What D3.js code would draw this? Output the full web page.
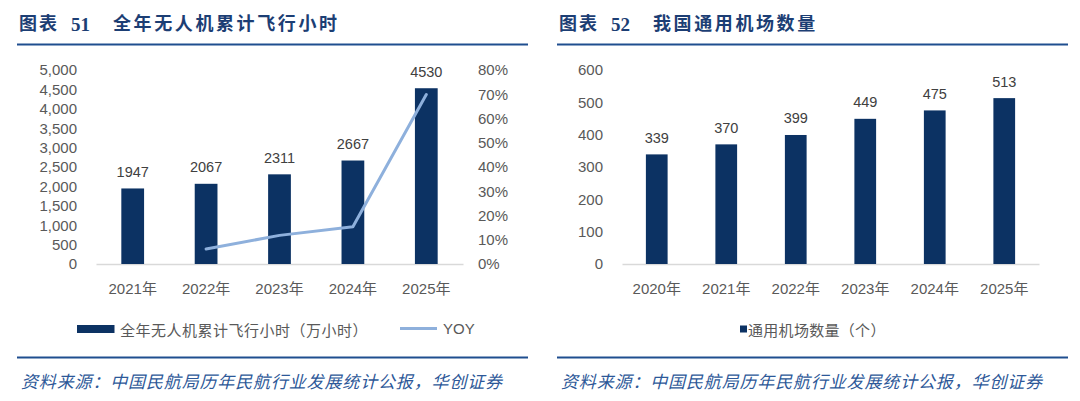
<!DOCTYPE html>
<html>
<head>
<meta charset="utf-8">
<script src="https://cdn.jsdelivr.net/npm/d3@7"></script>
<style>
  html, body { margin: 0; padding: 0; background: #fff; }
  svg { display: block; }
</style>
</head>
<body>
<svg id="chart" width="1080" height="401"></svg>
<script>
// Chart 51: drone flight hours (10k hours) + YOY
var hourYears = ['2021年', '2022年', '2023年', '2024年', '2025年'];
var flightHours = [1947, 2067, 2311, 2667, 4530];
var yoyYears = ['2022年', '2023年', '2024年', '2025年'];
var yoyPct = [6.2, 11.8, 15.4, 69.9];
var hourTicks = [0, 500, 1000, 1500, 2000, 2500, 3000, 3500, 4000, 4500, 5000];
var pctTicks = [0, 10, 20, 30, 40, 50, 60, 70, 80];

// Chart 52: general aviation airports
var airportYears = ['2020年', '2021年', '2022年', '2023年', '2024年', '2025年'];
var airportCounts = [339, 370, 399, 449, 475, 513];
var airportTicks = [0, 100, 200, 300, 400, 500, 600];

var BAR = '#0c3263';
var LINE = '#8eb0dc';
var GREY = '#595959';
var SANS = '"Liberation Sans", Arial, "Noto Sans CJK SC", sans-serif';
var CJK = '"Noto Sans CJK SC", sans-serif';

var svg = d3.select('#chart');
svg.append('rect').attr('width', 1080).attr('height', 401).attr('fill', '#fff');

// note: "top" is a read-only window global, so use other names
var plotTop = 70, plotBase = 264;

/**
 * Title, rules and source line shared by both panels
 */
function frame(ox, num, title) {
  var g = svg.append('g').attr('transform', 'translate(' + ox + ',0)');
  var tf = '"Liberation Serif", "Noto Sans CJK SC", serif';

  g.append('text').attr('x', 19).attr('y', 24).attr('dominant-baseline', 'central')
    .attr('font-family', tf).attr('font-weight', 'bold').attr('font-size', 18)
    .attr('letter-spacing', 2).attr('fill', '#1c3e74').text('图表');
  g.append('text').attr('x', 71).attr('y', 24).attr('dominant-baseline', 'central')
    .attr('font-family', tf).attr('font-weight', 'bold').attr('font-size', 19)
    .attr('fill', '#1c3e74').text(num);
  g.append('text').attr('x', 113).attr('y', 24).attr('dominant-baseline', 'central')
    .attr('font-family', tf).attr('font-weight', 'bold').attr('font-size', 18)
    .attr('letter-spacing', 2.6).attr('fill', '#1c3e74').text(title);

  [44.5, 357.5].forEach(function(y) {
    g.append('line').attr('x1', 17).attr('x2', 528).attr('y1', y).attr('y2', y)
      .attr('stroke', '#1f4e8f').attr('stroke-width', 2);
  });

  g.append('text').attr('x', 21).attr('y', 380).attr('dominant-baseline', 'central')
    .attr('font-family', CJK).attr('font-style', 'italic').attr('font-size', 17)
    .attr('letter-spacing', 0.85).attr('fill', '#2d5898')
    .text('资料来源：中国民航局历年民航行业发展统计公报，华创证券');
}

/**
 * Bars with value labels and the category axis
 */
function bars(x, y, cats, vals) {
  var g = svg.append('g');

  g.append('g')
    .attr('transform', 'translate(0,' + plotBase + ')')
    .call(d3.axisBottom(x).tickSize(0).tickSizeOuter(0).tickPadding(19))
    .call(function(a) {
      a.select('.domain').attr('stroke', '#d9d9d9').attr('stroke-width', 1.5);
      a.selectAll('text').attr('font-family', SANS).attr('font-size', 15).attr('fill', GREY);
    });

  g.selectAll('rect.bar')
    .data(vals)
    .enter().append('rect')
    .attr('class', 'bar')
    .attr('x', function(d, i) { return x(cats[i]) })
    .attr('y', function(d) { return y(d) })
    .attr('width', x.bandwidth())
    .attr('height', function(d) { return plotBase - y(d) })
    .attr('fill', BAR);

  g.selectAll('text.val')
    .data(vals)
    .enter().append('text')
    .attr('class', 'val')
    .attr('x', function(d, i) { return x(cats[i]) + x.bandwidth() / 2 })
    .attr('y', function(d) { return y(d) - 16.6 })
    .attr('dy', '0.35em')
    .attr('text-anchor', 'middle')
    .attr('font-family', SANS).attr('font-size', 14.5).attr('fill', '#404040')
    .text(function(d) { return d });
}

function styleTicks(a) {
  a.select('.domain').remove();
  a.selectAll('text').attr('font-family', SANS).attr('font-size', 15).attr('fill', GREY);
}

// ---- Left panel ----
frame(0, '51', '全年无人机累计飞行小时');

var x1 = d3.scaleBand().domain(hourYears).range([96, 463]).paddingInner(0.69).paddingOuter(0.345);
var y1 = d3.scaleLinear().domain([0, 5000]).range([plotBase, plotTop]);
var y1r = d3.scaleLinear().domain([0, 80]).range([plotBase, plotTop]);

svg.append('g').attr('transform', 'translate(77,0)')
  .call(d3.axisLeft(y1).tickValues(hourTicks).tickSize(0).tickPadding(0).tickFormat(d3.format(',')))
  .call(styleTicks);

svg.append('g').attr('transform', 'translate(478,0)')
  .call(d3.axisRight(y1r).tickValues(pctTicks).tickSize(0).tickPadding(0).tickFormat(function(d) { return d + '%' }))
  .call(styleTicks);

bars(x1, y1, hourYears, flightHours);

var yoyLine = d3.line()
  .x(function(d, i) { return x1(yoyYears[i]) + x1.bandwidth() / 2 })
  .y(function(d) { return y1r(d) });

svg.append('path')
  .datum(yoyPct)
  .attr('fill', 'none')
  .attr('stroke', LINE)
  .attr('stroke-width', 3)
  .attr('stroke-linecap', 'round')
  .attr('stroke-linejoin', 'round')
  .attr('d', yoyLine);

// legend
svg.append('rect').attr('x', 77).attr('y', 325).attr('width', 37.5).attr('height', 8).attr('fill', BAR);
svg.append('text').attr('x', 120).attr('y', 329).attr('dominant-baseline', 'central')
  .attr('font-family', CJK).attr('font-size', 15).attr('letter-spacing', 0.5).attr('fill', GREY)
  .text('全年无人机累计飞行小时（万小时）');
svg.append('line').attr('x1', 400).attr('x2', 437).attr('y1', 328.5).attr('y2', 328.5)
  .attr('stroke', LINE).attr('stroke-width', 3);
svg.append('text').attr('x', 443).attr('y', 329).attr('dy', '0.35em')
  .attr('font-family', SANS).attr('font-size', 15).attr('fill', GREY).text('YOY');

// ---- Right panel ----
frame(540, '52', '我国通用机场数量');

var x2 = d3.scaleBand().domain(airportYears).range([622, 1039]).paddingInner(0.6875).paddingOuter(0.34375);
var y2 = d3.scaleLinear().domain([0, 600]).range([plotBase, plotTop]);

svg.append('g').attr('transform', 'translate(603,0)')
  .call(d3.axisLeft(y2).tickValues(airportTicks).tickSize(0).tickPadding(0))
  .call(styleTicks);

bars(x2, y2, airportYears, airportCounts);

// legend
svg.append('rect').attr('x', 740).attr('y', 325.5).attr('width', 7).attr('height', 7).attr('fill', BAR);
svg.append('text').attr('x', 748).attr('y', 329).attr('dominant-baseline', 'central')
  .attr('font-family', CJK).attr('font-size', 15).attr('letter-spacing', 0.3).attr('fill', GREY)
  .text('通用机场数量（个）');
</script>
</body>
</html>
